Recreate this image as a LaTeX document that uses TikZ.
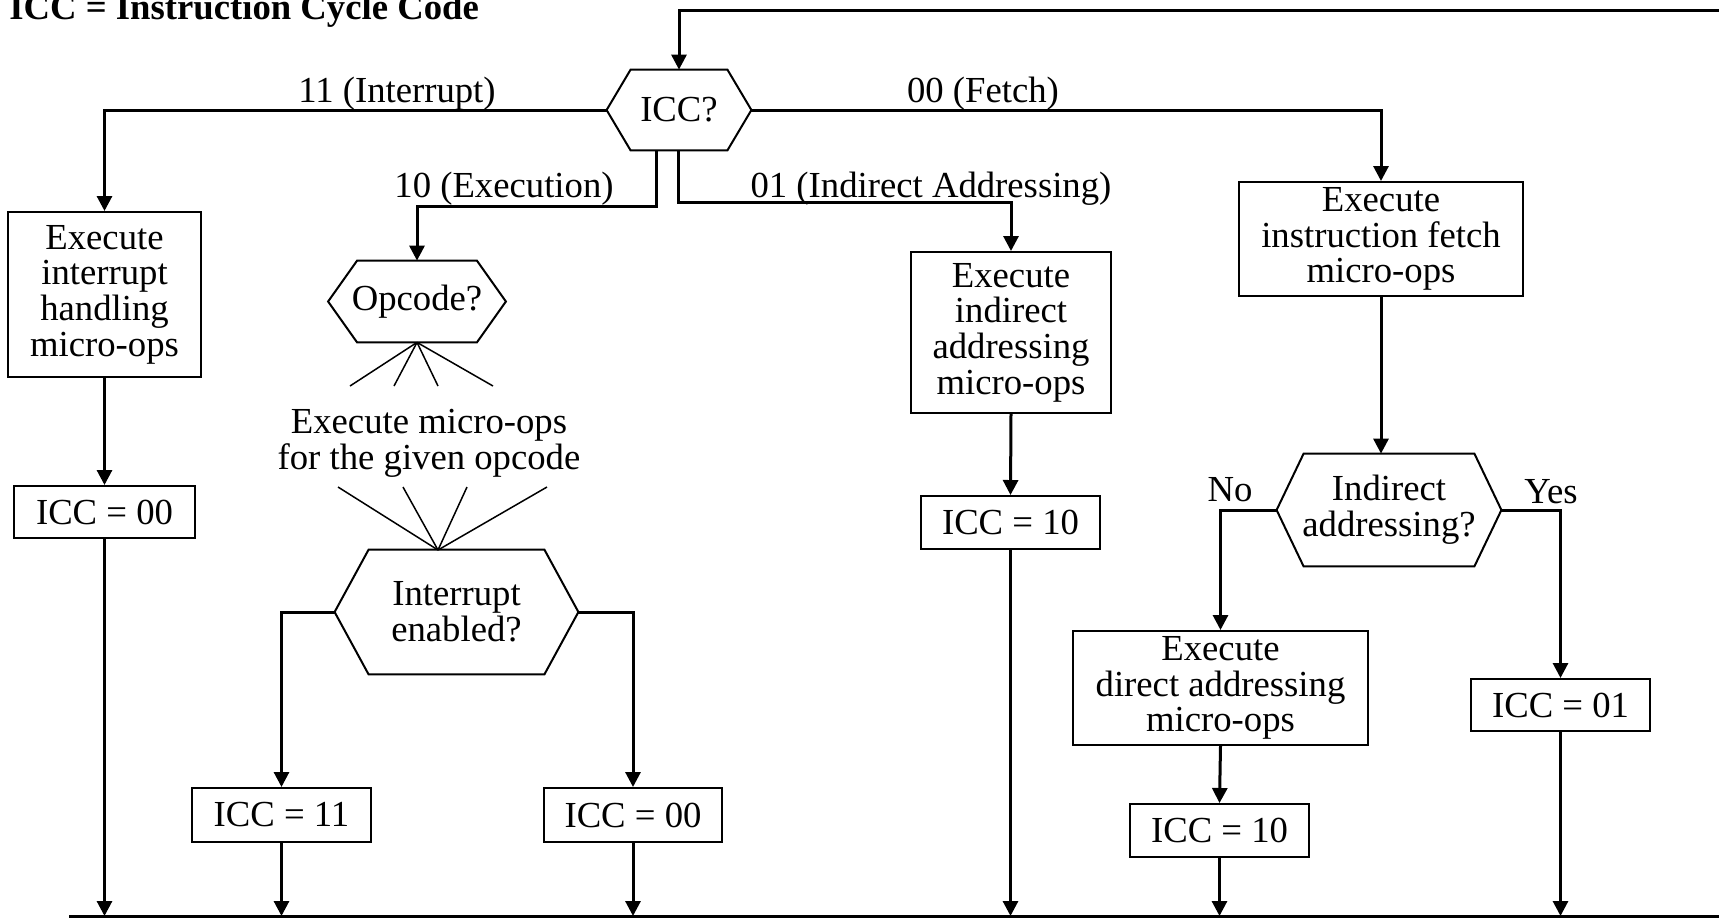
\documentclass[tikz,border=0pt]{standalone}
\usepackage{fontspec}
\setmainfont{Liberation Serif}
\usetikzlibrary{arrows.meta}
\newcommand\diagfont{\fontsize{18.35pt}{17.8pt}\selectfont}
% hexagonal outline around a (borderless) node: #1 = node name, #2 = slant
\newcommand\hexoutline[2]{%
  \draw[shapeline] (#1.west) -- ([xshift=#2]#1.north west) -- ([xshift=-#2]#1.north east)
    -- (#1.east) -- ([xshift=-#2]#1.south east) -- ([xshift=#2]#1.south west) -- cycle;}
\begin{document}
\begin{tikzpicture}[x=0.5pt, y=-0.5pt,
  shapeline/.style={line width=1pt},
  conn/.style={line width=1.5pt},
  arr/.style={conn, -{Triangle[length=7.5pt,width=7.5pt]}},
  fan/.style={line width=0.75pt},
  box/.style 2 args={draw, line width=1pt, inner sep=0pt, align=center, font=\diagfont,
    minimum width=#1*0.5pt, minimum height=#2*0.5pt},
  hex/.style 2 args={inner sep=0pt, align=center, font=\diagfont,
    minimum width=#1*0.5pt, minimum height=#2*0.5pt},
  lbl/.style={anchor=base, inner sep=0pt, font=\diagfont}]
\useasboundingbox (0,0) rectangle (1719,918);

\node[lbl, anchor=base west, font=\diagfont\bfseries] (title) at (9,19) {ICC = Instruction Cycle Code};

% decisions and actions
\node[hex={144}{80}] (icc) at (679,110) {ICC?};
\hexoutline{icc}{12pt}
\node[box={193}{165}] (intx) at (104.5,294.5) {Execute\\interrupt\\handling\\micro-ops};
\node[box={181}{52}] (iccA) at (104.5,512) {ICC = 00};

\node[hex={177}{81}] (opc) at (417,301.5) {Opcode?};
\hexoutline{opc}{14.5pt}
\node[inner sep=0pt, align=center, font=\diagfont] (opx) at (429,443) {Execute micro-ops\\for the given opcode};
\node[hex={243}{124}] (ien) at (456.5,612) {Interrupt\\enabled?};
\hexoutline{ien}{17pt}
\node[box={179}{54}] (iccB) at (281.5,815) {ICC = 11};
\node[box={178}{54}] (iccC) at (633,815) {ICC = 00};

\node[box={200}{161}] (indx) at (1011,332.5) {Execute\\indirect\\addressing\\micro-ops};
\node[box={179}{53}] (iccD) at (1010.5,522.5) {ICC = 10};

\node[box={284}{114}] (fet) at (1381,239) {Execute\\instruction fetch\\micro-ops};
\node[hex={224}{112}] (indq) at (1389,510) {Indirect\\addressing?};
\hexoutline{indq}{13.5pt}
\node[box={295}{114}] (dirx) at (1220.5,688) {Execute\\direct addressing\\micro-ops};
\node[box={179}{53}] (iccE) at (1219.5,830.5) {ICC = 10};
\node[box={179}{52}] (iccF) at (1560.5,705) {ICC = 01};

% branch labels
\node[lbl] (l11) at (397,102) {11 (Interrupt)};
\node[lbl] (l00) at (983,102) {00 (Fetch)};
\node[lbl] (l10) at (504,197) {10 (Execution)};
\node[lbl] (l01) at (931,197) {01 (Indirect Addressing)};
\node[lbl] (lno) at (1230,501) {No};
\node[lbl] (lyes) at (1551,503) {Yes};

% free ends
\coordinate (busL) at (69,916);
\coordinate (busR) at (1734,916);
\coordinate (loopR) at (1730,10);
\coordinate (f1) at (350,386);
\coordinate (f2) at (394,386);
\coordinate (f3) at (438,386);
\coordinate (f4) at (493,386);
\coordinate (g1) at (338,487);
\coordinate (g2) at (403,487);
\coordinate (g3) at (467,487);
\coordinate (g4) at (547,487);
\coordinate (gapex) at (438,550);

% connectors
\draw[arr] (loopR) -| (icc.north);
\draw[arr] (icc.west) -| (intx.north);
\draw[arr] (icc.east) -| (fet.north);
\draw[arr] ([xshift=-11.5pt]icc.south) -- ++(0,56) -| (opc.north);
\draw[arr] ([xshift=-0.5pt]icc.south) -- ++(0,52) -| (indx.north);

\draw[arr] (intx.south) -- (iccA.north);
\draw[arr] (iccA.south) -- (iccA.south |- busL);

\foreach \p in {f1,f2,f3,f4} \draw[fan] (opc.south) -- (\p);
\foreach \p in {g1,g2,g3,g4} \draw[fan] (\p) -- (gapex);

\draw[arr] (ien.west) -| (iccB.north);
\draw[arr] (ien.east) -| (iccC.north);
\draw[arr] (iccB.south) -- (iccB.south |- busL);
\draw[arr] (iccC.south) -- (iccC.south |- busL);

\draw[arr] (indx.south) -- (iccD.north);
\draw[arr] (iccD.south) -- (iccD.south |- busL);

\draw[arr] (fet.south) -- (fet.south |- indq.north);
\draw[arr] (indq.west) -| (dirx.north);
\draw[arr] (indq.east) -| (iccF.north);
\draw[arr] (dirx.south) -- (iccE.north);
\draw[arr] (iccE.south) -- (iccE.south |- busL);
\draw[arr] (iccF.south) -- (iccF.south |- busL);

\draw[arr] (busL) -- (busR);
\end{tikzpicture}
\end{document}
